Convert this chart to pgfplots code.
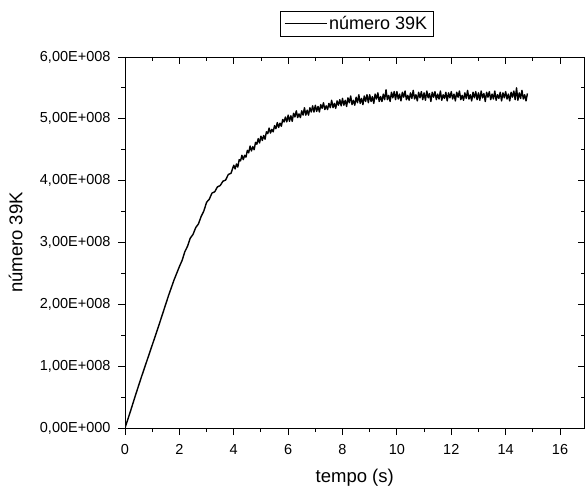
\documentclass[border=0pt]{standalone}
\usepackage{fontspec}
\setmainfont{Liberation Sans}
\usepackage{pgfplots}
\pgfplotsset{compat=1.18}

% numero de nucleos 39K em unidades de 1E+008
\pgfplotstableread{
t y
0 0
0.2 0.27
0.4 0.55
0.6 0.82
0.8 1.08
1.0 1.34
1.2 1.60
1.4 1.87
1.6 2.14
1.8 2.39
2.0 2.61
2.1 2.71
2.2 2.85
2.3 2.94
2.4 3.07
2.5 3.13
2.6 3.24
2.7 3.30
2.8 3.42
2.9 3.51
3.0 3.65
3.1 3.70
3.2 3.80
3.3 3.82
3.4 3.90
3.5 3.92
3.6 3.99
3.7 4.01
3.8 4.10
3.9 4.12
4.00 4.25
4.05 4.19
4.10 4.27
4.15 4.22
4.20 4.34
4.25 4.32
4.30 4.41
4.35 4.34
4.40 4.41
4.45 4.38
4.50 4.49
4.55 4.45
4.60 4.56
4.65 4.48
4.70 4.55
4.75 4.50
4.80 4.62
4.85 4.59
4.90 4.68
4.95 4.61
5.00 4.72
5.05 4.65
5.10 4.73
5.15 4.67
5.20 4.79
5.25 4.76
5.30 4.85
5.35 4.77
5.40 4.83
5.45 4.79
5.50 4.89
5.55 4.84
5.60 4.94
5.65 4.86
5.70 4.93
5.75 4.88
5.80 4.99
5.85 4.95
5.90 5.03
5.95 4.95
6.00 5.06
6.05 4.96
6.10 5.05
6.15 4.96
6.20 5.09
6.25 5.03
6.30 5.13
6.35 5.02
6.40 5.08
6.45 5.02
6.50 5.13
6.55 5.06
6.60 5.18
6.65 5.06
6.70 5.14
6.75 5.06
6.80 5.18
6.85 5.11
6.90 5.21
6.95 5.11
7.00 5.22
7.05 5.12
7.10 5.20
7.15 5.11
7.20 5.23
7.25 5.17
7.30 5.26
7.35 5.15
7.40 5.21
7.45 5.15
7.50 5.25
7.55 5.18
7.60 5.30
7.65 5.18
7.70 5.25
7.75 5.17
7.80 5.29
7.85 5.22
7.90 5.31
7.95 5.21
8.00 5.33
8.05 5.22
8.10 5.30
8.15 5.20
8.20 5.34
8.25 5.26
8.30 5.37
8.35 5.23
8.40 5.30
8.45 5.22
8.50 5.35
8.55 5.26
8.60 5.39
8.65 5.25
8.70 5.33
8.75 5.23
8.80 5.37
8.85 5.28
8.90 5.39
8.95 5.26
9.00 5.39
9.05 5.28
9.10 5.36
9.15 5.25
9.20 5.40
9.25 5.32
9.30 5.42
9.35 5.28
9.40 5.36
9.45 5.28
9.50 5.40
9.55 5.31
9.60 5.47
9.65 5.31
9.70 5.38
9.75 5.28
9.80 5.43
9.85 5.34
9.90 5.44
9.95 5.31
10.00 5.44
10.05 5.32
10.10 5.40
10.15 5.29
10.20 5.43
10.25 5.35
10.30 5.45
10.35 5.31
10.40 5.38
10.45 5.30
10.50 5.42
10.55 5.33
10.60 5.46
10.65 5.32
10.70 5.39
10.75 5.29
10.80 5.43
10.85 5.34
10.90 5.44
10.95 5.31
11.00 5.42
11.05 5.30
11.10 5.45
11.15 5.34
11.20 5.41
11.25 5.28
11.30 5.43
11.35 5.35
11.40 5.44
11.45 5.31
11.50 5.40
11.55 5.32
11.60 5.45
11.65 5.30
11.70 5.39
11.75 5.33
11.80 5.43
11.85 5.29
11.90 5.42
11.95 5.34
12.00 5.44
12.05 5.32
12.10 5.40
12.15 5.29
12.20 5.43
12.25 5.35
12.30 5.45
12.35 5.31
12.40 5.38
12.45 5.30
12.50 5.42
12.55 5.33
12.60 5.46
12.65 5.32
12.70 5.39
12.75 5.29
12.80 5.43
12.85 5.34
12.90 5.44
12.95 5.31
13.00 5.42
13.05 5.30
13.10 5.45
13.15 5.34
13.20 5.41
13.25 5.28
13.30 5.43
13.35 5.35
13.40 5.44
13.45 5.31
13.50 5.40
13.55 5.32
13.60 5.45
13.65 5.30
13.70 5.39
13.75 5.33
13.80 5.43
13.85 5.29
13.90 5.42
13.95 5.34
14.00 5.44
14.05 5.32
14.10 5.40
14.15 5.29
14.20 5.43
14.25 5.35
14.30 5.45
14.35 5.31
14.40 5.50
14.45 5.30
14.50 5.42
14.55 5.33
14.60 5.46
14.65 5.32
14.70 5.39
14.75 5.29
14.80 5.41
}\dados

\begin{document}
\begin{tikzpicture}
\pgfplotsset{
  caixa/.style={
    scale only axis, width=459.5pt, height=371pt,
    at={(125pt,57pt)}, anchor=south west,
    xmin=0, xmax=16.9, ymin=0, ymax=6,
    xtick={0,2,...,16}, ytick={0,1,...,6},
    minor x tick num=1, minor y tick num=1,
    major tick length=7pt, minor tick length=4pt,
    axis line style={line width=0.9pt},
    every tick/.style={black, line width=0.9pt},
    /pgf/number format/assume math mode=true,
    tick label style={font=\fontsize{14.5}{17}\selectfont},
  }
}
\begin{axis}[
    caixa,
    tick align=outside,
    xtick pos=left, ytick pos=left,
    yticklabels={{0,00E+000},{1,00E+008},{2,00E+008},{3,00E+008},{4,00E+008},{5,00E+008},{6,00E+008}},
    yticklabel style={xshift=-4pt},
    xticklabel style={yshift=-6pt},
    xlabel={tempo (s)},
    ylabel={número 39K},
    xlabel style={at={(axis description cs:0.5,-0.11)}, anchor=north, inner sep=0pt, font=\fontsize{18.5}{22}\selectfont},
    ylabel style={at={(axis description cs:-0.238,0.5)}, anchor=center, inner sep=0pt, font=\fontsize{18.5}{22}\selectfont},
    legend style={at={(axis description cs:0.5,1)}, anchor=south, yshift=20pt, xshift=2pt,
      draw=black, line width=0.7pt, inner xsep=4pt, inner ysep=3.5pt,
      font=\fontsize{18}{21}\selectfont},
    legend image code/.code={\draw[#1, line width=0.8pt] (0pt,0pt) -- (42pt,0pt);},
]
\addplot[black, line width=1.4pt, line join=round] table[x=t, y=y] {\dados};
\legend{número 39K}
\end{axis}
\begin{axis}[
    caixa,
    tick align=inside,
    xtick pos=right, ytick pos=right,
    xticklabels={}, yticklabels={},
]
\end{axis}
\pgfresetboundingbox
\path[use as bounding box] (0,0) rectangle (585pt,485pt);
\end{tikzpicture}
\end{document}
